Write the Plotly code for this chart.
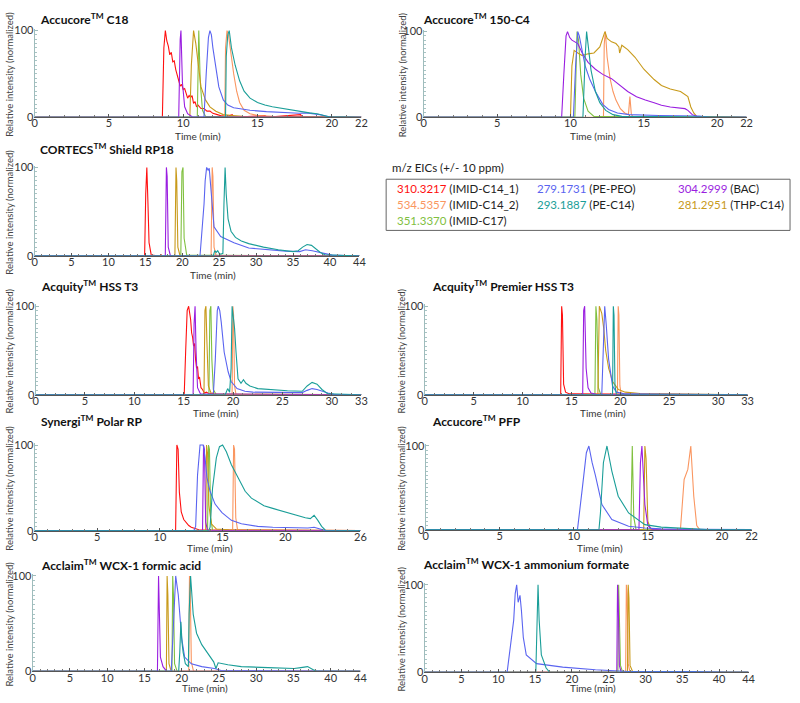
import plotly.graph_objects as go

W, H = 800, 703
FONT = "Lato"

# ---------------- data ----------------
COMPOUNDS = ["IMID-C14_1", "IMID-C14_2", "IMID-C17", "PE-PEO", "PE-C14", "BAC", "THP-C14"]
MZ = ["310.3217", "534.5357", "351.3370", "279.1731", "293.1887", "304.2999", "281.2951"]
DRAW_ORDER = ["IMID-C14_1", "IMID-C14_2", "IMID-C17", "THP-C14", "BAC", "PE-PEO", "PE-C14"]

XTICKS_22 = [0, 5, 10, 15, 20, 22]
XTICKS_26 = [0, 5, 10, 15, 20, 26]
XTICKS_33 = [0, 5, 10, 15, 20, 25, 30, 33]
XTICKS_44 = [0, 5, 10, 15, 20, 25, 30, 35, 40, 44]
YTICKS = [0, 100]

C18 = {
    "IMID-C14_1": ([0, 8.6, 8.7, 8.8, 8.9, 9.0, 9.1, 9.2, 9.3, 9.4, 9.5, 9.6, 9.7, 9.8, 9.9, 10.0, 10.1, 10.2, 10.3, 10.4, 10.5, 10.6, 10.7, 10.8, 10.9, 11.0, 11.2, 11.4, 11.6, 11.8, 12.0, 12.3, 12.6, 13.0, 13.3, 13.4, 14.0, 15.5, 15.6, 16.0, 17.9, 18.0, 22],
                   [0, 0, 80, 100, 88, 82, 72, 75, 64, 65, 55, 48, 42, 36, 38, 32, 33, 26, 22, 25, 23, 25, 16, 18, 12, 14, 10, 10, 7, 7, 4.5, 3, 1.5, 1, 3, 0.5, 0.5, 2, 0.5, 0.5, 3, 0.5, 0]),
    "BAC": ([0, 9.7, 9.8, 9.85, 9.95, 10.1, 10.3, 10.6, 22],
            [0, 0, 90, 100, 40, 12, 4, 0.5, 0]),
    "THP-C14": ([0, 10.45, 10.55, 10.7, 10.85, 11.0, 11.2, 11.5, 11.8, 12.2, 12.7, 13.3, 14.0, 22],
                [0, 0, 60, 100, 85, 60, 35, 20, 12, 7, 3, 2, 1, 0]),
    "IMID-C17": ([0, 10.95, 11.05, 11.15, 11.3, 11.5, 22],
                 [0, 0, 100, 40, 8, 1, 0]),
    "PE-PEO": ([0, 11.4, 11.55, 11.7, 11.8, 11.9, 12.0, 12.2, 12.4, 12.7, 13.0, 13.4, 14.5, 15.6, 16.7, 17.8, 18.3, 18.7, 19.2, 19.6, 20.0, 22],
               [0, 0, 50, 92, 100, 95, 80, 55, 35, 20, 14, 11, 8, 6.5, 5.5, 4.5, 5, 4.5, 3, 1.5, 0, 0]),
    "IMID-C14_2": ([0, 12.8, 12.85, 12.95, 13.05, 13.2, 13.4, 13.6, 13.8, 14.1, 14.5, 15.0, 16.0, 22],
                   [0, 0, 80, 100, 95, 75, 50, 30, 17, 8, 4, 2, 1, 0]),
    "PE-C14": ([0, 12.85, 12.9, 13.0, 13.1, 13.25, 13.5, 13.8, 14.1, 14.5, 15.0, 15.5, 16.0, 16.5, 17.0, 17.5, 18.0, 18.5, 19.0, 19.4, 19.8, 22],
               [0, 0, 70, 95, 100, 80, 60, 42, 30, 22, 17, 14, 12, 10.5, 9, 8, 6, 5, 4, 2.5, 0.5, 0]),
}

C4 = {
    "BAC": ([0, 9.4, 9.55, 9.7, 9.8, 9.95, 10.1, 10.3, 10.5, 10.8, 11.2, 11.7, 12.2, 12.8, 13.3, 13.9, 14.5, 15.1, 15.7, 16.2, 16.8, 17.3, 17.8, 18.0, 18.3, 18.6, 19.0, 22],
            [0, 0, 50, 95, 100, 93, 90, 88, 86, 75, 64, 56, 50, 45, 38, 30, 24, 20, 17, 14, 12, 11, 10, 8, 3, 1, 0, 0]),
    "THP-C14": ([0, 10.0, 10.1, 10.25, 10.5, 10.8, 11.2, 11.6, 12.0, 12.2, 12.35, 12.5, 12.8, 13.1, 13.3, 13.35, 13.5, 13.9, 14.4, 15.0, 15.7, 16.2, 16.8, 17.5, 17.8, 18.0, 18.2, 18.4, 18.6, 22],
                [0, 0, 60, 78, 75, 72, 74, 75, 82, 92, 100, 92, 88, 86, 82, 75, 84, 79, 70, 56, 44, 37, 33, 30, 27, 24, 12, 5, 1, 0]),
    "PE-PEO": ([0, 10.2, 10.35, 10.5, 10.6, 10.8, 11.0, 11.3, 11.7, 12.2, 12.6, 13.2, 14.0, 16.0, 18.0, 18.8, 19.5, 22],
               [0, 0, 60, 100, 95, 75, 60, 45, 30, 15, 9, 5, 3, 2, 2, 1.5, 0, 0]),
    "IMID-C17": ([0, 10.3, 10.45, 10.55, 10.7, 10.9, 11.2, 11.6, 22],
                 [0, 0, 100, 90, 50, 22, 7, 1, 0]),
    "PE-C14": ([0, 10.85, 11.0, 11.1, 11.2, 11.4, 11.7, 12.0, 12.4, 12.9, 13.5, 22],
               [0, 0, 70, 100, 85, 55, 30, 17, 8, 3, 1, 0]),
    "IMID-C14_2": ([0, 12.25, 12.3, 12.38, 12.5, 12.7, 12.9, 13.1, 13.4, 13.7, 13.95, 14.05, 14.15, 14.3, 22],
                   [0, 0, 85, 100, 70, 45, 30, 20, 10, 5, 3, 24, 3, 0, 0]),
}

CORTECS = {
    "IMID-C14_1": ([0, 14.9, 15.05, 15.2, 15.35, 15.5, 15.8, 17.0, 17.1, 17.2, 44],
                   [0, 0, 70, 100, 60, 15, 1, 0, 2, 0, 0]),
    "BAC": ([0, 17.7, 17.85, 17.95, 18.1, 18.4, 44],
            [0, 0, 100, 90, 10, 0, 0]),
    "THP-C14": ([0, 19.0, 19.15, 19.25, 19.4, 19.7, 44],
                [0, 0, 100, 85, 10, 0, 0]),
    "IMID-C17": ([0, 19.8, 19.95, 20.1, 20.25, 20.6, 44],
                 [0, 0, 95, 100, 20, 1, 0]),
    "PE-PEO": ([0, 22.4, 22.95, 23.1, 23.3, 23.5, 23.65, 23.9, 24.3, 25.2, 27.0, 29.0, 31.4, 34.0, 35.9, 36.7, 37.6, 39.0, 40.3, 44],
               [0, 0, 59, 85, 100, 97, 99, 75, 33, 22, 15, 9, 7, 5.5, 5, 7, 6, 3, 1, 0]),
    "IMID-C14_2": ([0, 23.9, 24.05, 24.15, 24.3, 24.6, 44],
                   [0, 0, 100, 90, 10, 0, 0]),
    "PE-C14": ([0, 24.2, 24.4, 24.6, 24.8, 25.0, 25.2, 25.5, 25.65, 25.8, 25.95, 26.2, 26.6, 27.2, 28.0, 29.0, 31.0, 33.0, 35.0, 35.7, 36.3, 36.9, 37.5, 38.1, 38.7, 39.3, 44],
               [0, 0, 6, 4, 6, 3, 2, 3, 60, 100, 70, 42, 28, 21, 17, 14, 10, 7, 5, 6, 10, 13, 12, 8, 4, 1.5, 0]),
}

HSS_T3 = {
    "IMID-C14_1": ([0, 15.05, 15.2, 15.35, 15.5, 15.6, 15.7, 15.8, 15.9, 16.0, 16.1, 16.2, 16.3, 16.4, 16.5, 16.6, 16.75, 16.9, 17.1, 17.3, 17.6, 17.9, 18.0, 18.1, 33],
                   [0, 0, 50, 95, 100, 92, 85, 70, 65, 55, 58, 40, 30, 32, 18, 20, 8, 6, 2, 3, 1, 2, 0.5, 0, 0]),
    "BAC": ([0, 15.95, 16.05, 16.15, 16.25, 16.4, 16.7, 33],
            [0, 0, 80, 100, 50, 8, 1, 0]),
    "THP-C14": ([0, 17.05, 17.15, 17.25, 17.35, 17.5, 17.8, 33],
                [0, 0, 95, 100, 60, 10, 1, 0]),
    "IMID-C17": ([0, 17.55, 17.65, 17.75, 17.85, 18.0, 18.3, 33],
                 [0, 0, 95, 100, 40, 6, 0, 0]),
    "PE-PEO": ([0, 18.0, 18.2, 18.4, 18.5, 18.65, 18.8, 19.1, 19.5, 19.8, 20.4, 21.2, 22.0, 24.0, 26.0, 27.0, 27.5, 28.0, 28.5, 29.0, 29.6, 30.2, 33],
               [0, 0, 40, 95, 100, 95, 82, 48, 26, 15, 7, 4, 3, 2.5, 2, 2.5, 5, 7, 6, 4, 2, 0.5, 0]),
    "PE-C14": ([0, 19.2, 19.45, 19.65, 19.8, 19.9, 20.0, 20.15, 20.3, 20.5, 20.8, 21.05, 21.3, 21.7, 22.5, 24.0, 25.5, 27.0, 27.5, 28.0, 28.5, 29.0, 29.6, 33],
               [0, 0, 7, 3, 30, 100, 90, 75, 48, 18, 13, 17, 13, 10, 7, 5.5, 4.5, 4, 10, 14, 12, 6, 1, 0]),
    "IMID-C14_2": ([0, 19.9, 19.98, 20.05, 20.15, 20.3, 33],
                   [0, 0, 100, 90, 10, 0, 0]),
}

PREMIER = {
    "IMID-C14_1": ([0, 13.9, 14.0, 14.08, 14.2, 14.4, 14.8, 33],
                   [0, 0, 100, 90, 12, 3, 1, 0]),
    "BAC": ([0, 16.15, 16.25, 16.35, 16.5, 16.7, 17.0, 17.5, 33],
            [0, 0, 95, 100, 30, 8, 2, 0.5, 0]),
    "IMID-C17": ([0, 17.4, 17.5, 17.6, 17.75, 18.0, 33],
                 [0, 0, 100, 85, 8, 0, 0]),
    "THP-C14": ([0, 17.7, 17.85, 17.95, 18.1, 18.3, 18.5, 18.8, 19.2, 19.8, 20.5, 22.0, 25.0, 27.0, 33],
                [0, 0, 100, 97, 92, 75, 50, 30, 15, 6, 3, 1.5, 1, 0.5, 0]),
    "PE-PEO": ([0, 18.1, 18.25, 18.4, 18.55, 18.8, 19.2, 19.6, 20.5, 33],
               [0, 0, 50, 100, 80, 40, 10, 3, 1, 0]),
    "PE-C14": ([0, 19.2, 19.28, 19.35, 19.45, 19.6, 33],
               [0, 0, 100, 90, 10, 0, 0]),
    "IMID-C14_2": ([0, 19.7, 19.78, 19.85, 19.95, 20.1, 33],
                   [0, 0, 100, 90, 10, 0, 0]),
}

SYNERGI = {
    "IMID-C14_1": ([0, 11.25, 11.35, 11.45, 11.55, 11.7, 11.9, 12.1, 12.3, 12.5, 12.7, 12.9, 13.1, 26],
                   [0, 0, 100, 95, 45, 22, 13, 9, 6, 4, 3, 2, 1, 0]),
    "PE-PEO": ([0, 12.7, 12.85, 13.0, 13.2, 13.45, 13.6, 13.75, 14.0, 14.4, 14.95, 15.7, 16.5, 17.8, 19.0, 20.5, 21.8, 22.3, 22.7, 23.2, 26],
               [0, 0, 5, 65, 100, 100, 85, 62, 46, 31, 21, 12, 8, 5, 4, 3.5, 3, 4, 2, 0, 0]),
    "BAC": ([0, 13.4, 13.48, 13.55, 13.65, 13.8, 26],
            [0, 0, 100, 95, 10, 0, 0]),
    "THP-C14": ([0, 13.65, 13.72, 13.8, 13.9, 14.1, 14.5, 15.5, 26],
                [0, 0, 100, 90, 30, 8, 2, 1, 0]),
    "IMID-C17": ([0, 13.8, 13.88, 13.95, 14.05, 14.2, 26],
                 [0, 0, 100, 95, 15, 0, 0]),
    "PE-C14": ([0, 13.9, 14.0, 14.2, 14.5, 14.75, 15.0, 15.3, 15.7, 16.25, 16.8, 17.3, 17.85, 18.3, 19.0, 19.7, 20.4, 21.0, 21.6, 22.0, 22.3, 22.6, 22.9, 23.2, 26],
               [0, 0, 4, 50, 85, 98, 100, 92, 77, 62, 46, 38, 33, 29, 26, 23, 20, 17, 15, 14, 18, 12, 5, 0.5, 0]),
    "IMID-C14_2": ([0, 15.8, 15.88, 15.95, 16.05, 16.2, 26],
                   [0, 0, 100, 95, 15, 0, 0]),
}

PFP = {
    "PE-PEO": ([0, 10.25, 10.58, 10.85, 11.02, 11.24, 11.46, 11.9, 12.57, 13.7, 14.8, 15.9, 18.1, 20.0, 22],
               [0, 0, 50, 92, 100, 80, 65, 30, 12, 4, 2, 1, 0.5, 0, 0]),
    "PE-C14": ([0, 11.7, 11.8, 12.0, 12.24, 12.57, 13.0, 13.7, 14.8, 15.9, 18.1, 19.0, 22],
               [0, 0, 20, 80, 100, 70, 40, 20, 6, 3, 1, 0, 0]),
    "IMID-C17": ([0, 13.85, 13.95, 14.05, 14.2, 22],
                 [0, 0, 100, 15, 0, 0]),
    "BAC": ([0, 14.4, 14.5, 14.6, 14.8, 15.0, 15.3, 22],
            [0, 0, 80, 100, 30, 5, 0, 0]),
    "THP-C14": ([0, 14.72, 14.8, 14.88, 15.0, 15.2, 22],
                [0, 0, 100, 85, 10, 0, 0]),
    "IMID-C14_2": ([0, 17.2, 17.45, 17.63, 17.7, 17.9, 18.1, 18.3, 18.5, 22],
                   [0, 0, 60, 70, 72, 100, 40, 5, 0, 0]),
}

WCX_FA = {
    "BAC": ([0, 16.75, 16.9, 17.0, 17.15, 17.5, 18.0, 44],
            [0, 0, 100, 70, 15, 5, 0, 0]),
    "THP-C14": ([0, 17.95, 18.05, 18.15, 18.3, 18.6, 44],
                [0, 0, 100, 80, 8, 0, 0]),
    "IMID-C17": ([0, 18.7, 18.8, 18.9, 19.05, 19.4, 44],
                 [0, 0, 100, 80, 8, 0, 0]),
    "PE-PEO": ([0, 18.6, 18.85, 19.1, 19.2, 19.55, 20.0, 20.4, 21.3, 22.7, 24.4, 25.3, 44],
               [0, 0, 40, 90, 100, 80, 35, 15, 8, 5, 3, 1, 0]),
    "PE-C14": ([0, 19.6, 19.75, 19.9, 20.05, 20.2, 20.5, 20.9, 21.0, 21.2, 21.55, 22.0, 22.7, 23.6, 24.3, 24.6, 24.9, 26.2, 28.0, 31.6, 35.1, 36.0, 36.9, 37.6, 38.2, 44],
               [0, 0, 20, 52, 30, 20, 8, 5, 60, 100, 60, 40, 28, 18, 10, 3, 9, 7, 5, 4, 3, 4, 5, 2, 0, 0]),
    "IMID-C14_2": ([0, 20.95, 21.05, 21.15, 21.3, 21.6, 44],
                   [0, 0, 100, 90, 10, 0, 0]),
}

WCX_AF = {
    "PE-PEO": ([0, 11.2, 11.8, 12.1, 12.3, 12.5, 12.7, 12.95, 13.15, 13.4, 13.8, 15.2, 18.75, 23.2, 27.7, 36.6, 41.0, 44],
               [0, 0, 40, 60, 90, 100, 80, 88, 70, 40, 20, 10, 6, 3, 1, 1, 0, 0]),
    "PE-C14": ([0, 15.1, 15.25, 15.4, 15.55, 15.85, 16.5, 17.0, 44],
               [0, 0, 50, 100, 60, 20, 5, 0, 0]),
    "BAC": ([0, 26.1, 26.2, 26.3, 26.45, 26.7, 44],
            [0, 0, 100, 80, 8, 0, 0]),
    "IMID-C17": ([0, 26.25, 26.35, 26.45, 26.6, 26.9, 44],
                 [0, 0, 100, 70, 8, 0, 0]),
    "IMID-C14_2": ([0, 27.3, 27.4, 27.5, 27.65, 27.9, 44],
                   [0, 0, 100, 90, 10, 0, 0]),
    "THP-C14": ([0, 27.55, 27.65, 27.75, 27.9, 28.3, 44],
                [0, 0, 100, 85, 8, 0, 0]),
}

# ---------------- styles ----------------
COLORS = {
    "IMID-C14_1": "#ff1010",
    "IMID-C14_2": "#fa9660",
    "IMID-C17": "#80c040",
    "PE-PEO": "#5a64f0",
    "PE-C14": "#1a9e98",
    "BAC": "#9a1ee0",
    "THP-C14": "#c89a1a",
}

# (data, title, xmax, xticks, px_x0, px_x1, px_ytop, px_ybot, title_x, title_y, xtitle_x, xtitle_y, ytitle_x)
PANELS = [
    (C18, "Accucore<sup>TM</sup> C18", 22, XTICKS_22, 32, 363, 26, 114, 35, 14, 197, 133, 7),
    (C4, "Accucore<sup>TM</sup> 150-C4", 22, XTICKS_22, 426, 753, 27, 114, 423, 14, 597, 133, 404),
    (CORTECS, "CORTECS<sup>TM</sup> Shield RP18", 44, XTICKS_44, 32, 361, 165, 255, 35, 146, 213, 274, 7),
    (HSS_T3, "Acquity<sup>TM</sup> HSS T3", 33, XTICKS_33, 33, 363, 306, 396, 36, 285, 216, 414, 7),
    (PREMIER, "Acquity<sup>TM</sup> Premier HSS T3", 33, XTICKS_33, 427, 754, 306, 396, 432, 285, 608, 414, 404),
    (SYNERGI, "Synergi<sup>TM</sup> Polar RP", 26, XTICKS_26, 32, 362, 447, 534, 36, 423, 210, 552, 7),
    (PFP, "Accucore<sup>TM</sup> PFP", 22, XTICKS_22, 428, 758, 448, 533, 432, 423, 605, 552, 404),
    (WCX_FA, "Acclaim<sup>TM</sup> WCX-1 formic acid", 44, XTICKS_44, 30, 362, 580, 677, 36, 569, 205, 694, 7),
    (WCX_AF, "Acclaim<sup>TM</sup> WCX-1 ammonium formate", 44, XTICKS_44, 427, 755, 589, 678, 423, 568, 597, 694, 404),
]


def px_x(v):
    return v / W


def px_y(v):
    return 1 - v / H


fig = go.Figure()
annotations = []
layout_axes = {}

for i, (data, title, xmax, xticks, px0, px1, pyt, pyb, tx, ty, xtx, xty, ytx) in enumerate(PANELS, start=1):
    sfx = "" if i == 1 else str(i)
    for comp in DRAW_ORDER:
        if comp not in data:
            continue
        t, y = data[comp]
        fig.add_trace(go.Scatter(
            x=t, y=y, mode="lines", name=comp, showlegend=False,
            line=dict(color=COLORS[comp], width=1.1),
            xaxis="x" + sfx, yaxis="y" + sfx, hoverinfo="skip",
        ))
    ppu = (pyb - pyt) / 100.0
    layout_axes["xaxis" + sfx] = dict(
        domain=[px_x(px0), px_x(px1)], range=[0, xmax], anchor="y" + sfx,
        tickmode="array", tickvals=xticks, ticktext=[str(v) for v in xticks],
        showline=True, linecolor="#555555", linewidth=1,
        ticks="inside", ticklen=3, tickcolor="#555555",
        minor=dict(dtick=1, ticks="inside", ticklen=2, tickcolor="#777777"),
        showgrid=False, zeroline=False, ticklabelstandoff=-4,
        tickfont=dict(family=FONT, size=11, color="#333333"),
    )
    layout_axes["yaxis" + sfx] = dict(
        domain=[px_y(pyb), px_y(pyt - 2 * ppu)], range=[0, 102], anchor="x" + sfx,
        tickmode="array", tickvals=YTICKS, ticktext=[str(v) for v in YTICKS],
        showline=True, linecolor="#9fbcbc", linewidth=1,
        ticks="inside", ticklen=3, tickcolor="#9fbcbc",
        minor=dict(dtick=5, ticks="inside", ticklen=2, tickcolor="#a8c4c4"),
        showgrid=False, zeroline=False, ticklabelstandoff=-2,
        tickfont=dict(family=FONT, size=11, color="#333333"),
    )
    annotations.append(dict(
        text="<b>" + title + "</b>", x=px_x(tx), y=px_y(ty), xref="paper", yref="paper",
        xanchor="left", yanchor="middle", showarrow=False,
        font=dict(family=FONT, size=12, color="#111111"),
    ))
    annotations.append(dict(
        text="Time (min)", x=px_x(xtx), y=px_y(xty), xref="paper", yref="paper",
        xanchor="center", yanchor="middle", showarrow=False, borderpad=0,
        font=dict(family=FONT, size=10, color="#333333"),
    ))
    annotations.append(dict(
        text="Relative intensity (normalized)", x=px_x(ytx), y=px_y((pyt + pyb) / 2),
        xref="paper", yref="paper", xanchor="center", yanchor="middle",
        textangle=-90, showarrow=False,
        font=dict(family=FONT, size=9.5, color="#444444"),
    ))

# ---------------- legend ----------------
annotations.append(dict(
    text="m/z EICs (+/- 10 ppm)", x=px_x(392), y=px_y(165), xref="paper", yref="paper",
    xanchor="left", yanchor="middle", showarrow=False,
    font=dict(family=FONT, size=11.5, color="#222222"),
))
LEG_POS = {
    "IMID-C14_1": (397, 186), "PE-PEO": (539, 186), "BAC": (682, 186),
    "IMID-C14_2": (397, 203), "PE-C14": (539, 203), "THP-C14": (682, 203),
    "IMID-C17": (397, 219),
}
for comp, m in zip(COMPOUNDS, MZ):
    lx, ly = LEG_POS[comp]
    annotations.append(dict(
        text=f"<span style='color:{COLORS[comp]}'>{m}</span> ({comp})",
        x=px_x(lx), y=px_y(ly), xref="paper", yref="paper",
        xanchor="left", yanchor="middle", showarrow=False,
        font=dict(family=FONT, size=11.5, color="#222222"),
    ))

shapes = [dict(type="rect", xref="paper", yref="paper",
               x0=px_x(388), x1=px_x(797), y0=px_y(229), y1=px_y(177),
               line=dict(color="#666666", width=1), fillcolor="rgba(0,0,0,0)")]

fig.update_layout(
    width=W, height=H, margin=dict(l=0, r=0, t=0, b=0),
    paper_bgcolor="white", plot_bgcolor="white",
    showlegend=False, annotations=annotations, shapes=shapes,
    **layout_axes,
)

fig.write_html("out.html",
               config={"displayModeBar": False, "staticPlot": True},
               post_script="document.body.style.margin='0';document.body.style.overflow='hidden';")
